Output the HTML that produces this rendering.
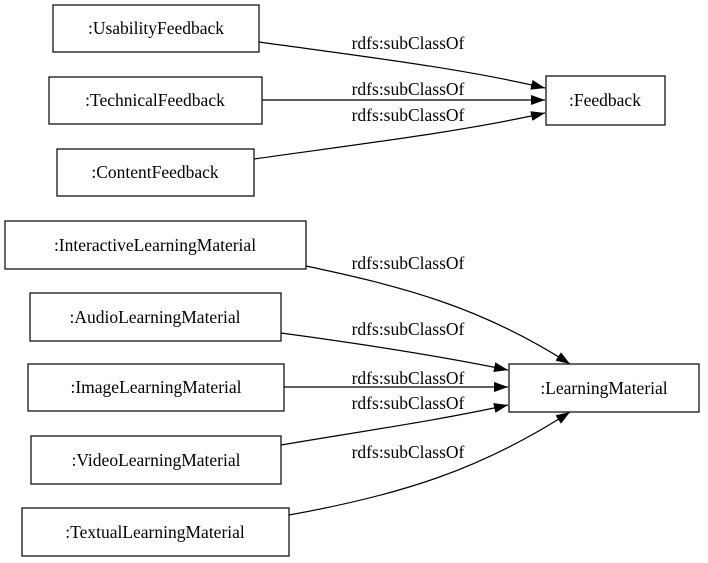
<!DOCTYPE html>
<html><head><meta charset="utf-8"><style>
html,body{margin:0;padding:0;background:#fff;width:708px;height:563px;overflow:hidden}
text{font-family:"Liberation Serif",serif;font-size:17.5px;fill:#000}
</style></head><body>
<svg width="708" height="563" viewBox="0 0 708 563" xmlns="http://www.w3.org/2000/svg">
<defs><marker id="a" markerWidth="14" markerHeight="10" refX="14" refY="5" orient="auto" markerUnits="userSpaceOnUse"><path d="M0,0 L14,5 L0,10 z" fill="#000"/></marker></defs>
<g fill="none" stroke="#000" stroke-width="1.2">
<rect x="53" y="5" width="206" height="47"/>
<rect x="49" y="77" width="213" height="47"/>
<rect x="57" y="149" width="197" height="47"/>
<rect x="546" y="76" width="119" height="49"/>
<rect x="5" y="221" width="301" height="48"/>
<rect x="30" y="293" width="251" height="48"/>
<rect x="28" y="364" width="256" height="47"/>
<rect x="31" y="436" width="250" height="48"/>
<rect x="22" y="508" width="267" height="48"/>
<rect x="509" y="364" width="190" height="48"/>
<path d="M259,42 C360,56 460,68 545,88" marker-end="url(#a)"/>
<path d="M262,100 L545,100" marker-end="url(#a)"/>
<path d="M254,159 C360,144 460,132 545,113" marker-end="url(#a)"/>
<path d="M306,266 C400,286 480,306 570,364" marker-end="url(#a)"/>
<path d="M281,333 C370,345 440,356 508,370" marker-end="url(#a)"/>
<path d="M284,387 L508,387" marker-end="url(#a)"/>
<path d="M281,445 C370,430 440,420 508,405" marker-end="url(#a)"/>
<path d="M289,515 C400,495 480,470 570,412" marker-end="url(#a)"/>
</g>
<g text-anchor="middle">
<text x="156" y="34">:UsabilityFeedback</text>
<text x="155" y="106">:TechnicalFeedback</text>
<text x="155" y="178">:ContentFeedback</text>
<text x="605" y="106">:Feedback</text>
<text x="155" y="251">:InteractiveLearningMaterial</text>
<text x="155" y="323">:AudioLearningMaterial</text>
<text x="156" y="393">:ImageLearningMaterial</text>
<text x="156" y="466">:VideoLearningMaterial</text>
<text x="155" y="538">:TextualLearningMaterial</text>
<text x="604" y="394">:LearningMaterial</text>
<text x="408" y="49">rdfs:subClassOf</text>
<text x="408" y="95">rdfs:subClassOf</text>
<text x="408" y="121">rdfs:subClassOf</text>
<text x="408" y="269">rdfs:subClassOf</text>
<text x="408" y="335">rdfs:subClassOf</text>
<text x="408" y="384">rdfs:subClassOf</text>
<text x="408" y="409">rdfs:subClassOf</text>
<text x="408" y="458">rdfs:subClassOf</text>
</g>
</svg>
</body></html>
